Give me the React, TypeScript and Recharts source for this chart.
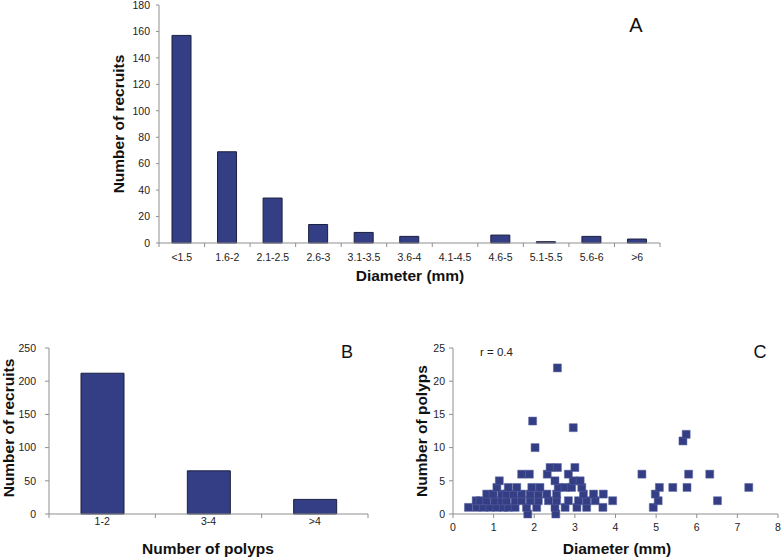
import { BarChart, Bar, XAxis, YAxis, ScatterChart, Scatter, ZAxis } from 'recharts'

// Panel A: recruits by diameter class
const sizeClasses = ['<1.5', '1.6-2', '2.1-2.5', '2.6-3', '3.1-3.5', '3.6-4', '4.1-4.5', '4.6-5', '5.1-5.5', '5.6-6', '>6']
const recruitsBySize = [157, 69, 34, 14, 8, 5, 0, 6, 1, 5, 3]
const sizeTicks = [0, 20, 40, 60, 80, 100, 120, 140, 160, 180]

// Panel B: recruits by number of polyps
const polypClasses = ['1-2', '3-4', '>4']
const recruitsByPolyps = [212, 65, 22]
const polypTicks = [0, 50, 100, 150, 200, 250]

// Panel C: diameter vs number of polyps (row by row, same order in both arrays)
const diameters = [
  1.84, 2.53,
  0.38, 0.58, 0.75, 0.91, 1.08, 1.24, 1.36, 1.53, 1.81, 2.06, 2.51, 2.76, 3.05, 3.29, 3.69, 4.93,
  0.57, 0.67, 0.83, 1.03, 1.2, 1.32, 1.53, 1.69, 1.9, 2.1, 2.35, 2.55, 2.84, 3.09, 3.29, 3.5, 3.93, 5.05, 6.51,
  0.83, 0.99, 1.2, 1.32, 1.49, 1.69, 1.9, 2.1, 2.31, 2.55, 3.21, 3.46, 3.7, 4.98,
  1.08, 1.36, 1.57, 1.94, 2.14, 2.59, 2.76, 2.92, 3.17, 5.08, 5.41, 5.76, 7.28,
  1.14, 2.51, 2.96, 3.13,
  1.69, 1.88, 2.32, 2.84, 4.65, 5.8, 6.32,
  2.39, 2.57, 3.0,
  2.02, 5.66, 5.74, 2.96, 1.96, 2.57,
]
const polypCounts = [
  0, 0,
  1, 1, 1, 1, 1, 1, 1, 1, 1, 1, 1, 1, 1, 1, 1, 1,
  2, 2, 2, 2, 2, 2, 2, 2, 2, 2, 2, 2, 2, 2, 2, 2, 2, 2, 2,
  3, 3, 3, 3, 3, 3, 3, 3, 3, 3, 3, 3, 3, 3,
  4, 4, 4, 4, 4, 4, 4, 4, 4, 4, 4, 4, 4,
  5, 5, 5, 5,
  6, 6, 6, 6, 6, 6, 6,
  7, 7, 7,
  10, 11, 12, 13, 14, 22,
]
const diameterTicks = [0, 1, 2, 3, 4, 5, 6, 7, 8]
const polypCountTicks = [0, 5, 10, 15, 20, 25]

const BAR_FILL = '#343E85'
const AXIS = '#8f8f8f'
const FONT = '"Liberation Sans", Arial, sans-serif'
const tickStyle = { fontSize: 10.5, fill: '#222', fontFamily: FONT }

const sizeData = sizeClasses.map((cls, i) => ({ cls, n: recruitsBySize[i] }))
const polypData = polypClasses.map((cls, i) => ({ cls, n: recruitsByPolyps[i] }))
const scatterData = diameters.map((d, i) => ({ d, p: polypCounts[i] }))

// category tick: label in the middle, tick marks on the band edges (Excel style)
function BandTick(props: any) {
  const { x, y, payload, index, bw, axisY, count } = props
  const left = x - bw / 2
  const right = x + bw / 2
  return (
    <g>
      <line x1={left} x2={left} y1={axisY} y2={axisY + 4} stroke={AXIS} />
      {index === count - 1 && <line x1={right} x2={right} y1={axisY} y2={axisY + 4} stroke={AXIS} />}
      <text x={x} y={y} dy="0.71em" textAnchor="middle" style={tickStyle}>
        {payload.value}
      </text>
    </g>
  )
}

function Title({ text, cx, cy, rotate = false, size = 15.5, bold = true }: any) {
  return (
    <div
      style={{
        position: 'absolute',
        left: cx - 120,
        top: cy - 12,
        width: 240,
        height: 24,
        lineHeight: '24px',
        textAlign: 'center',
        fontFamily: FONT,
        fontWeight: bold ? 'bold' : 'normal',
        fontSize: size,
        color: '#111',
        transform: rotate ? 'rotate(-90deg)' : undefined,
        whiteSpace: 'nowrap',
      }}
    >
      {text}
    </div>
  )
}

export default function App() {
  return (
    <div style={{ position: 'absolute', left: 0, top: 0, width: 783, height: 559, background: '#fff' }}>
      {/* A */}
      <div style={{ position: 'absolute', left: 0, top: 0 }}>
        <BarChart width={783} height={290} data={sizeData} margin={{ top: 5, right: 123, left: 124, bottom: 22 }}>
          <XAxis
            dataKey="cls"
            height={25}
            stroke={AXIS}
            tickLine={false}
            tickSize={4}
            tickMargin={7}
            interval={0}
            tick={<BandTick bw={501 / 11} axisY={243} count={sizeClasses.length} />}
          />
          <YAxis
            width={35}
            domain={[0, 180]}
            ticks={sizeTicks}
            interval={0}
            stroke={AXIS}
            tickSize={3}
            tickMargin={6}
            tick={tickStyle}
          />
          <Bar dataKey="n" fill={BAR_FILL} stroke="#1b1f3f" strokeWidth={1} barSize={19} isAnimationActive={false} />
        </BarChart>
      </div>

      {/* B */}
      <div style={{ position: 'absolute', left: 0, top: 320 }}>
        <BarChart width={380} height={239} data={polypData} margin={{ top: 28, right: 12, left: 9, bottom: 20 }}>
          <XAxis
            dataKey="cls"
            height={25}
            stroke={AXIS}
            tickLine={false}
            tickSize={3}
            tickMargin={1}
            interval={0}
            tick={<BandTick bw={319 / 3} axisY={194} count={polypClasses.length} />}
          />
          <YAxis
            width={40}
            domain={[0, 250]}
            ticks={polypTicks}
            interval={0}
            stroke={AXIS}
            tickSize={4}
            tickMargin={9}
            tick={tickStyle}
          />
          <Bar dataKey="n" fill={BAR_FILL} stroke="#1b1f3f" strokeWidth={1} barSize={43} isAnimationActive={false} />
        </BarChart>
      </div>

      {/* C */}
      <div style={{ position: 'absolute', left: 390, top: 320 }}>
        <ScatterChart width={393} height={239} margin={{ top: 28, right: 5, left: 23, bottom: 20 }}>
          <XAxis
            type="number"
            dataKey="d"
            domain={[0, 8]}
            ticks={diameterTicks}
            interval={0}
            height={25}
            stroke={AXIS}
            tickSize={4}
            tickMargin={6}
            tick={tickStyle}
          />
          <YAxis
            type="number"
            dataKey="p"
            domain={[0, 25]}
            ticks={polypCountTicks}
            interval={0}
            width={40}
            stroke={AXIS}
            tickSize={4}
            tickMargin={4}
            tick={tickStyle}
          />
          <ZAxis range={[90, 90]} />
          <Scatter data={scatterData} shape="square" fill={BAR_FILL} stroke="#5a64a0" strokeWidth={0.5} isAnimationActive={false} />
        </ScatterChart>
      </div>

      <Title text="Number of recruits" cx={119} cy={124} rotate />
      <Title text="Diameter (mm)" cx={410} cy={276} />
      <Title text="A" cx={636} cy={25} size={20} bold={false} />

      <Title text="Number of recruits" cx={9} cy={428} rotate />
      <Title text="Number of polyps" cx={208} cy={549} />
      <Title text="B" cx={347} cy={352} size={18} bold={false} />

      <Title text="Number of polyps" cx={422} cy={431} rotate />
      <Title text="Diameter (mm)" cx={617} cy={549} />
      <Title text="C" cx={760} cy={352} size={18} bold={false} />
      <div style={{ position: 'absolute', left: 480, top: 346, fontFamily: FONT, fontSize: 11.5, color: '#222', whiteSpace: 'nowrap' }}>
        r = 0.4
      </div>
    </div>
  )
}
